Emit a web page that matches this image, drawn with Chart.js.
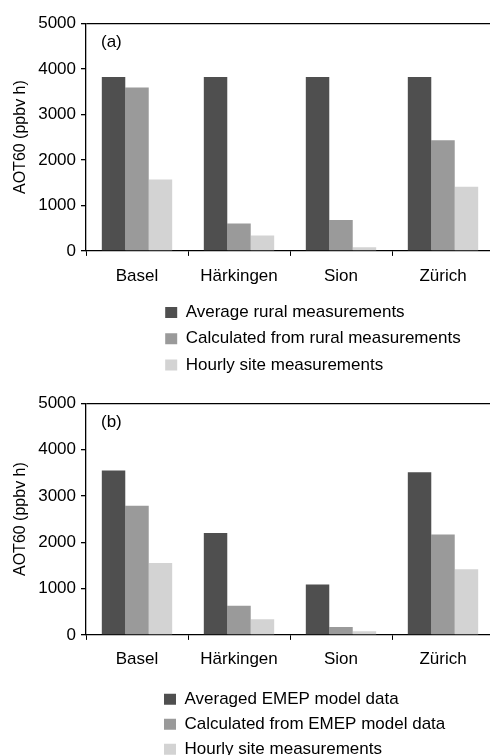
<!DOCTYPE html>
<html><head><meta charset="utf-8">
<script src="https://cdn.jsdelivr.net/npm/chart.js@4"></script>
<style>
html,body{margin:0;padding:0;background:#fff;overflow:hidden;width:490px;height:755px;position:relative;}
canvas{position:absolute;left:0;}
#c1{top:0}
#c2{top:380px}
</style></head><body>
<canvas id="c1" width="494" height="384"></canvas>
<canvas id="c2" width="494" height="388"></canvas>
<script>
const sites = ['Basel', 'Härkingen', 'Sion', 'Zürich'];
const yTicks = [0, 1000, 2000, 3000, 4000, 5000];
const yTitle = 'AOT60 (ppbv h)';

const seriesNamesA = ['Average rural measurements', 'Calculated from rural measurements', 'Hourly site measurements'];
const averageRural = [3820, 3820, 3820, 3820];
const calcRural = [3590, 600, 680, 2430];
const hourlyA = [1570, 340, 80, 1410];

const seriesNamesB = ['Averaged EMEP model data', 'Calculated from EMEP model data', 'Hourly site measurements'];
const averagedEMEP = [3550, 2200, 1090, 3510];
const calcEMEP = [2790, 630, 170, 2170];
const hourlyB = [1550, 340, 80, 1420];

Chart.defaults.font.family = "'Liberation Sans', Arial, sans-serif";
Chart.defaults.font.size = 17;
Chart.defaults.color = '#000';

const panelPlugin = {
  id: 'panel',
  afterLayout(chart, args, opts) {
    const lg = chart.legend;
    if (lg) { lg.left = opts.legendLeft; }
  },
  afterDatasetsDraw(chart, args, opts) {
    const ctx = chart.ctx, a = chart.chartArea;
    ctx.save();
    ctx.font = "17px 'Liberation Sans', Arial, sans-serif";
    ctx.fillStyle = '#000';
    ctx.textBaseline = 'middle';
    ctx.textAlign = 'left';
    ctx.fillText(opts.tag, a.left + 15, a.top + 19.5);
    ctx.restore();
  }
};

function makeChart(id, tag, names, series, cfg) {
  const fills = ['#4f4f4f', '#9a9a9a', '#d3d3d3'];
  return new Chart(document.getElementById(id), {
    type: 'bar',
    data: {
      labels: sites,
      datasets: names.map((n, i) => ({
        label: n, data: series[i], backgroundColor: fills[i], borderWidth: 0,
        categoryPercentage: 0.69, barPercentage: 1.0
      }))
    },
    options: {
      responsive: false, animation: false, devicePixelRatio: 1,
      layout: { padding: { top: 23.3, left: 0, right: 0, bottom: cfg.padBottom } },
      plugins: {
        tooltip: { enabled: false },
        legend: {
          position: 'bottom', align: 'start',
          labels: { boxWidth: 12, boxHeight: 11, padding: cfg.legendPad, color: '#000', font: { size: 17 } }
        },
        panel: { tag: tag, legendLeft: 156 }
      },
      scales: {
        x: {
          grid: { display: true, drawOnChartArea: false, drawTicks: true, tickLength: 5, color: '#000', offset: true },
          border: { display: true, color: '#000', width: 1.3 },
          ticks: { padding: cfg.xPad, color: '#000', font: { size: 17 } },
          afterFit: s => { s.height = cfg.xAxisH; }
        },
        y: {
          min: yTicks[0], max: yTicks[yTicks.length - 1],
          ticks: { stepSize: yTicks[1] - yTicks[0], padding: 5, color: '#000', font: { size: 17 }, callback: v => String(v) },
          grid: {
            drawTicks: true, tickLength: 5, tickColor: '#000',
            color: c => (c.tick && c.tick.value === yTicks[yTicks.length - 1]) ? '#000' : 'rgba(0,0,0,0)',
            lineWidth: 1.3
          },
          border: { display: true, color: '#000', width: 1.3 },
          title: { display: true, text: yTitle, color: '#000', font: { size: 16 }, padding: { top: 11, bottom: 0 } },
          afterFit: s => { s.width = 86; }
        }
      }
    },
    plugins: [panelPlugin]
  });
}

makeChart('c1', '(a)', seriesNamesA, [averageRural, calcRural, hourlyA], { padBottom: 0.5, legendPad: 9.2, xAxisH: 44, xPad: 10 });
makeChart('c2', '(b)', seriesNamesB, [averagedEMEP, calcEMEP, hourlyB], { padBottom: 0.3, legendPad: 8, xAxisH: 47.8, xPad: 9.5 });
</script>
</body></html>
